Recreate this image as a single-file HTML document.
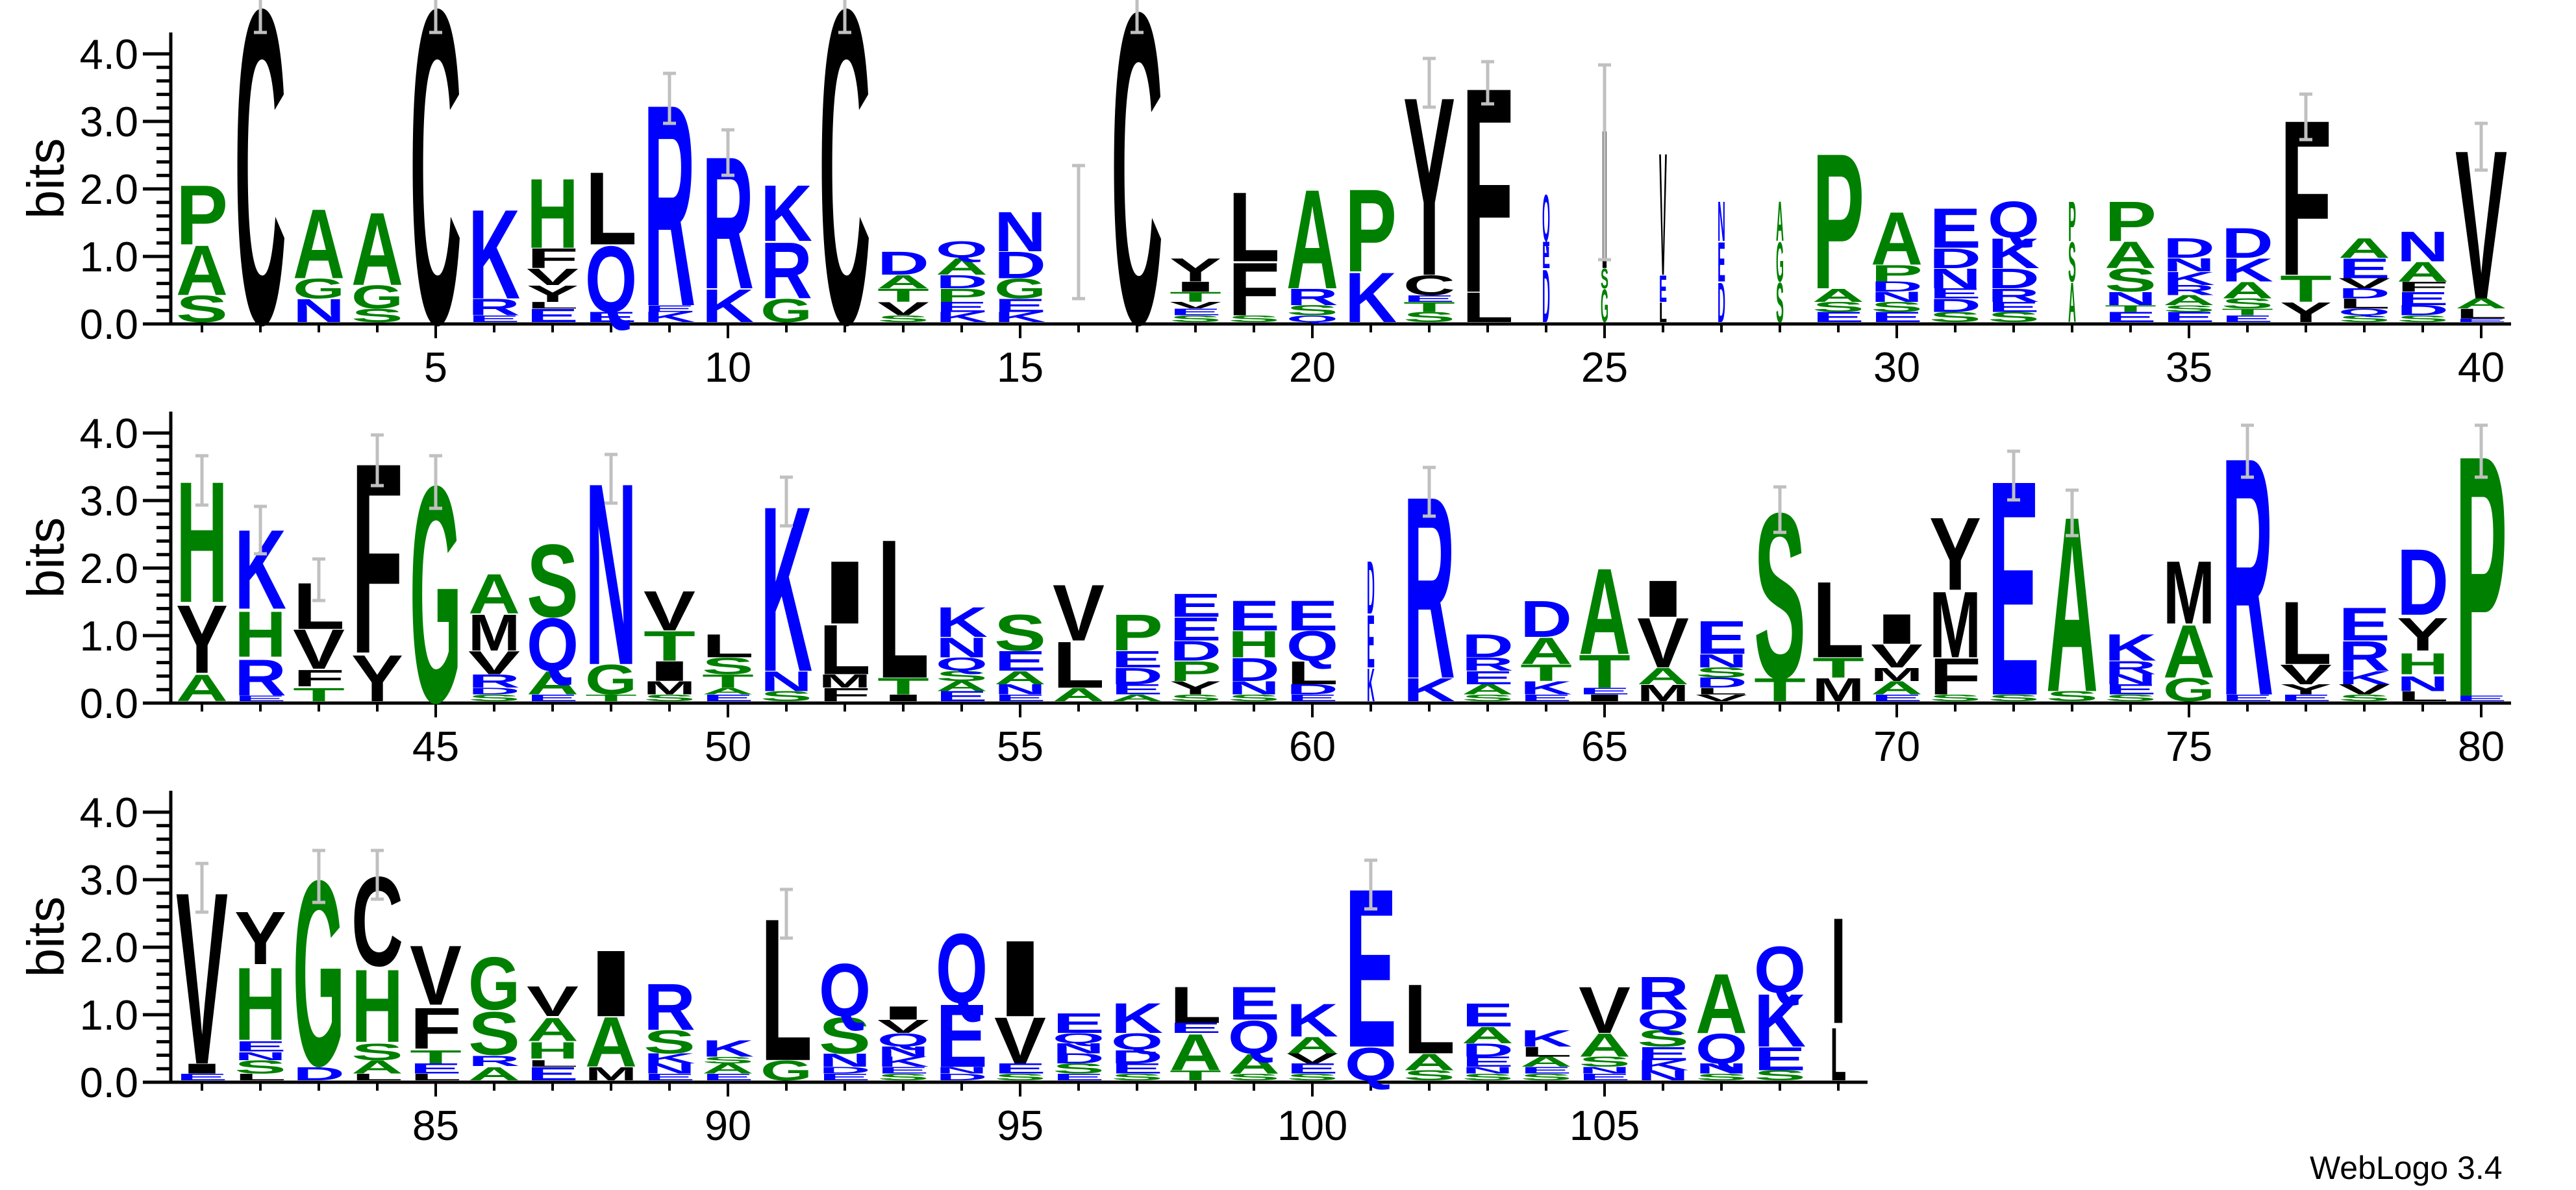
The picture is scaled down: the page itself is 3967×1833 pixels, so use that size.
<!DOCTYPE html>
<html><head><meta charset="utf-8"><style>
html,body{margin:0;padding:0;background:#fff;}
svg{display:block}
text{font-family:"Liberation Sans",sans-serif;}
.L text{font-weight:bold;font-size:140px;}
.b{fill:#0000ff}.g{fill:#008000}.k{fill:#000}
.ax{font-size:65px;fill:#000}
</style></head><body>
<svg xmlns="http://www.w3.org/2000/svg" width="3967" height="1833" viewBox="0 0 3967 1833">
<rect width="3967" height="1833" fill="#fff"/>
<!-- axes -->
<g id="axes1" stroke="#000" fill="none">
<path d="M263,50V501M262,499H3867" stroke-width="5"/>
<path d="M220,499H263M220,395H263M220,291H263M220,187H263M220,83H263" stroke-width="5"/>
<path d="M241,478.2H263M241,457.4H263M241,436.6H263M241,415.8H263M241,374.2H263M241,353.4H263M241,332.6H263M241,311.8H263M241,270.2H263M241,249.4H263M241,228.6H263M241,207.8H263M241,166.2H263M241,145.4H263M241,124.6H263M241,103.8H263" stroke-width="5"/>
<line x1="309" x2="3830" y1="506" y2="506" stroke-width="12" stroke-dasharray="4 86"/>
<line x1="669" x2="3830" y1="510" y2="510" stroke-width="22" stroke-dasharray="4 446"/>
</g>
<g stroke="#000" fill="none" transform="translate(0,584)">
<path d="M263,50V501M262,499H3867" stroke-width="5"/>
<path d="M220,499H263M220,395H263M220,291H263M220,187H263M220,83H263" stroke-width="5"/>
<path d="M241,478.2H263M241,457.4H263M241,436.6H263M241,415.8H263M241,374.2H263M241,353.4H263M241,332.6H263M241,311.8H263M241,270.2H263M241,249.4H263M241,228.6H263M241,207.8H263M241,166.2H263M241,145.4H263M241,124.6H263M241,103.8H263" stroke-width="5"/>
<line x1="309" x2="3830" y1="506" y2="506" stroke-width="12" stroke-dasharray="4 86"/>
<line x1="669" x2="3830" y1="510" y2="510" stroke-width="22" stroke-dasharray="4 446"/>
</g>
<g stroke="#000" fill="none" transform="translate(0,1168)">
<path d="M263,50V501M262,499H2876" stroke-width="5"/>
<path d="M220,499H263M220,395H263M220,291H263M220,187H263M220,83H263" stroke-width="5"/>
<path d="M241,478.2H263M241,457.4H263M241,436.6H263M241,415.8H263M241,374.2H263M241,353.4H263M241,332.6H263M241,311.8H263M241,270.2H263M241,249.4H263M241,228.6H263M241,207.8H263M241,166.2H263M241,145.4H263M241,124.6H263M241,103.8H263" stroke-width="5"/>
<line x1="309" x2="2840" y1="506" y2="506" stroke-width="12" stroke-dasharray="4 86"/>
<line x1="669" x2="2840" y1="510" y2="510" stroke-width="22" stroke-dasharray="4 446"/>
</g>
<!-- axis labels -->
<g class="ax" text-anchor="end">
<text x="213" y="522">0.0</text><text x="213" y="418">1.0</text><text x="213" y="314">2.0</text><text x="213" y="210">3.0</text><text x="213" y="106">4.0</text>
<text x="213" y="1106">0.0</text><text x="213" y="1002">1.0</text><text x="213" y="898">2.0</text><text x="213" y="794">3.0</text><text x="213" y="690">4.0</text>
<text x="213" y="1690">0.0</text><text x="213" y="1586">1.0</text><text x="213" y="1482">2.0</text><text x="213" y="1378">3.0</text><text x="213" y="1274">4.0</text>
</g>
<g class="ax" text-anchor="middle">
<text x="671" y="588">5</text><text x="1121" y="588">10</text><text x="1571" y="588">15</text><text x="2021" y="588">20</text><text x="2471" y="588">25</text><text x="2921" y="588">30</text><text x="3371" y="588">35</text><text x="3821" y="588">40</text>
<text x="671" y="1172">45</text><text x="1121" y="1172">50</text><text x="1571" y="1172">55</text><text x="2021" y="1172">60</text><text x="2471" y="1172">65</text><text x="2921" y="1172">70</text><text x="3371" y="1172">75</text><text x="3821" y="1172">80</text>
<text x="671" y="1756">85</text><text x="1121" y="1756">90</text><text x="1571" y="1756">95</text><text x="2021" y="1756">100</text><text x="2471" y="1756">105</text>
</g>
<g text-anchor="middle" style="font-size:80px">
<text transform="translate(98,275) rotate(-90)">bits</text>
<text transform="translate(98,859) rotate(-90)">bits</text>
<text transform="translate(98,1443) rotate(-90)">bits</text>
</g>
<text x="3557" y="1816" style="font-size:50px">WebLogo 3.4</text>

<g class="L">
<!-- ROW 1 -->
<g transform="translate(271,496) scale(1,1.04)"><text class="g" textLength="80" lengthAdjust="spacingAndGlyphs" transform="translate(0,0)scale(1,.4)">S</text><text class="g" textLength="80" lengthAdjust="spacingAndGlyphs" transform="translate(0,-40)scale(1,.75)">A</text><text class="g" textLength="80" lengthAdjust="spacingAndGlyphs" transform="translate(0,-115)scale(1,.9)">P</text></g>
<g transform="translate(361,496) scale(1,1.04)"><text class="k" textLength="80" lengthAdjust="spacingAndGlyphs" transform="scale(1,4.75)">C</text></g>
<g transform="translate(451,496) scale(1,1.04)"><text class="b" textLength="80" lengthAdjust="spacingAndGlyphs" transform="scale(1,.35)">N</text><text class="g" textLength="80" lengthAdjust="spacingAndGlyphs" transform="translate(0,-35)scale(1,.3)">G</text><text class="g" textLength="80" lengthAdjust="spacingAndGlyphs" transform="translate(0,-65)scale(1,1.05)">A</text></g>
<g transform="translate(541,496) scale(1,1.04)"><text class="g" textLength="80" lengthAdjust="spacingAndGlyphs" transform="scale(1,.2)">S</text><text class="g" textLength="80" lengthAdjust="spacingAndGlyphs" transform="translate(0,-20)scale(1,.35)">G</text><text class="g" textLength="80" lengthAdjust="spacingAndGlyphs" transform="translate(0,-55)scale(1,1.1)">A</text></g>
<g transform="translate(631,496) scale(1,1.04)"><text class="k" textLength="80" lengthAdjust="spacingAndGlyphs" transform="scale(1,4.75)">C</text></g>
<g transform="translate(721,496) scale(1,1.04)"><text class="b" textLength="80" lengthAdjust="spacingAndGlyphs" transform="scale(1,.1)">E</text><text class="b" textLength="80" lengthAdjust="spacingAndGlyphs" transform="translate(0,-10)scale(1,.25)">R</text><text class="b" textLength="80" lengthAdjust="spacingAndGlyphs" transform="translate(0,-35)scale(1,1.35)">K</text></g>
<g transform="translate(811,496) scale(1,1.04)"><text class="b" textLength="80" lengthAdjust="spacingAndGlyphs" transform="scale(1,.2)">E</text><text class="k" textLength="80" lengthAdjust="spacingAndGlyphs" transform="translate(0,-20)scale(1,.1)">L</text><text class="k" textLength="80" lengthAdjust="spacingAndGlyphs" transform="translate(0,-30)scale(1,.25)">Y</text><text class="k" textLength="80" lengthAdjust="spacingAndGlyphs" transform="translate(0,-55)scale(1,.25)">V</text><text class="k" textLength="80" lengthAdjust="spacingAndGlyphs" transform="translate(0,-80)scale(1,.3)">F</text><text class="g" textLength="80" lengthAdjust="spacingAndGlyphs" transform="translate(0,-110)scale(1,1.05)">H</text></g>
<g transform="translate(901,496) scale(1,1.04)"><text class="b" textLength="80" lengthAdjust="spacingAndGlyphs" transform="scale(1,.15)">E</text><text class="b" textLength="80" lengthAdjust="spacingAndGlyphs" transform="translate(0,-15)scale(1,1)">Q</text><text class="k" textLength="80" lengthAdjust="spacingAndGlyphs" transform="translate(0,-115)scale(1,1.1)">L</text></g>
<g transform="translate(991,496) scale(1,1.04)"><text class="b" textLength="80" lengthAdjust="spacingAndGlyphs" transform="scale(1,.15)">K</text><text class="b" textLength="80" lengthAdjust="spacingAndGlyphs" transform="translate(0,-15)scale(1,.1)">E</text><text class="b" textLength="80" lengthAdjust="spacingAndGlyphs" transform="translate(0,-25)scale(1,3.05)">R</text></g>
<g transform="translate(1081,496) scale(1,1.04)"><text class="b" textLength="80" lengthAdjust="spacingAndGlyphs" transform="scale(1,.5)">K</text><text class="b" textLength="80" lengthAdjust="spacingAndGlyphs" transform="translate(0,-50)scale(1,2)">R</text></g>
<g transform="translate(1171,496) scale(1,1.04)"><text class="g" textLength="80" lengthAdjust="spacingAndGlyphs" transform="scale(1,.35)">G</text><text class="b" textLength="80" lengthAdjust="spacingAndGlyphs" transform="translate(0,-35)scale(1,.85)">R</text><text class="b" textLength="80" lengthAdjust="spacingAndGlyphs" transform="translate(0,-120)scale(1,.85)">K</text></g>
<g transform="translate(1261,496) scale(1,1.04)"><text class="k" textLength="80" lengthAdjust="spacingAndGlyphs" transform="scale(1,4.75)">C</text></g>
<g transform="translate(1351,496) scale(1,1.04)"><text class="g" textLength="80" lengthAdjust="spacingAndGlyphs" transform="scale(1,.1)">S</text><text class="k" textLength="80" lengthAdjust="spacingAndGlyphs" transform="translate(0,-10)scale(1,.2)">V</text><text class="g" textLength="80" lengthAdjust="spacingAndGlyphs" transform="translate(0,-30)scale(1,.2)">T</text><text class="g" textLength="80" lengthAdjust="spacingAndGlyphs" transform="translate(0,-50)scale(1,.2)">A</text><text class="b" textLength="80" lengthAdjust="spacingAndGlyphs" transform="translate(0,-70)scale(1,.35)">D</text></g>
<g transform="translate(1441,496) scale(1,1.04)"><text class="b" textLength="80" lengthAdjust="spacingAndGlyphs" transform="scale(1,.15)">K</text><text class="b" textLength="80" lengthAdjust="spacingAndGlyphs" transform="translate(0,-15)scale(1,.15)">E</text><text class="g" textLength="80" lengthAdjust="spacingAndGlyphs" transform="translate(0,-30)scale(1,.2)">P</text><text class="b" textLength="80" lengthAdjust="spacingAndGlyphs" transform="translate(0,-50)scale(1,.2)">D</text><text class="g" textLength="80" lengthAdjust="spacingAndGlyphs" transform="translate(0,-70)scale(1,.25)">A</text><text class="b" textLength="80" lengthAdjust="spacingAndGlyphs" transform="translate(0,-95)scale(1,.25)">Q</text></g>
<g transform="translate(1531,496) scale(1,1.04)"><text class="b" textLength="80" lengthAdjust="spacingAndGlyphs" transform="scale(1,.15)">K</text><text class="b" textLength="80" lengthAdjust="spacingAndGlyphs" transform="translate(0,-15)scale(1,.2)">E</text><text class="g" textLength="80" lengthAdjust="spacingAndGlyphs" transform="translate(0,-35)scale(1,.3)">G</text><text class="b" textLength="80" lengthAdjust="spacingAndGlyphs" transform="translate(0,-65)scale(1,.4)">D</text><text class="b" textLength="80" lengthAdjust="spacingAndGlyphs" transform="translate(0,-105)scale(1,.6)">N</text></g>
<g transform="translate(1711,496) scale(1,1.04)"><text class="k" textLength="80" lengthAdjust="spacingAndGlyphs" transform="scale(1,4.7)">C</text></g>
<g transform="translate(1801,496) scale(1,1.04)"><text class="g" textLength="80" lengthAdjust="spacingAndGlyphs" transform="scale(1,.1)">S</text><text class="b" textLength="80" lengthAdjust="spacingAndGlyphs" transform="translate(0,-10)scale(1,.1)">E</text><text class="k" textLength="80" lengthAdjust="spacingAndGlyphs" transform="translate(0,-20)scale(1,.1)">V</text><text class="g" textLength="80" lengthAdjust="spacingAndGlyphs" transform="translate(0,-30)scale(1,.15)">T</text><text class="k" textLength="80" lengthAdjust="spacingAndGlyphs" transform="translate(0,-45)scale(1,.15)">I</text><text class="k" textLength="80" lengthAdjust="spacingAndGlyphs" transform="translate(0,-60)scale(1,.35)">Y</text></g>
<g transform="translate(1891,496) scale(1,1.04)"><text class="g" textLength="80" lengthAdjust="spacingAndGlyphs" transform="scale(1,.1)">S</text><text class="k" textLength="80" lengthAdjust="spacingAndGlyphs" transform="translate(0,-10)scale(1,.8)">F</text><text class="k" textLength="80" lengthAdjust="spacingAndGlyphs" transform="translate(0,-90)scale(1,1.05)">L</text></g>
<g transform="translate(1981,496) scale(1,1.04)"><text class="b" textLength="80" lengthAdjust="spacingAndGlyphs" transform="scale(1,.1)">Q</text><text class="g" textLength="80" lengthAdjust="spacingAndGlyphs" transform="translate(0,-10)scale(1,.15)">S</text><text class="b" textLength="80" lengthAdjust="spacingAndGlyphs" transform="translate(0,-25)scale(1,.25)">R</text><text class="g" textLength="80" lengthAdjust="spacingAndGlyphs" transform="translate(0,-50)scale(1,1.5)">A</text></g>
<g transform="translate(2071,496) scale(1,1.04)"><text class="b" textLength="80" lengthAdjust="spacingAndGlyphs" transform="scale(1,.75)">K</text><text class="g" textLength="80" lengthAdjust="spacingAndGlyphs" transform="translate(0,-75)scale(1,1.25)">P</text></g>
<g transform="translate(2161,496) scale(1,1.04)"><text class="g" textLength="80" lengthAdjust="spacingAndGlyphs" transform="scale(1,.15)">S</text><text class="g" textLength="80" lengthAdjust="spacingAndGlyphs" transform="translate(0,-15)scale(1,.15)">T</text><text class="b" textLength="80" lengthAdjust="spacingAndGlyphs" transform="translate(0,-30)scale(1,.1)">E</text><text class="k" textLength="80" lengthAdjust="spacingAndGlyphs" transform="translate(0,-40)scale(1,.3)">C</text><text class="k" textLength="80" lengthAdjust="spacingAndGlyphs" transform="translate(0,-70)scale(1,2.7)">Y</text></g>
<g transform="translate(2251,496) scale(1,1.04)"><text class="k" textLength="80" lengthAdjust="spacingAndGlyphs" transform="scale(1,.45)">L</text><text class="k" textLength="80" lengthAdjust="spacingAndGlyphs" transform="translate(0,-45)scale(1,3.1)">F</text></g>
<g transform="translate(2375,496) scale(1,1.04)"><text class="b" textLength="12" lengthAdjust="spacingAndGlyphs" transform="scale(1,.8)">D</text><text class="b" textLength="12" lengthAdjust="spacingAndGlyphs" transform="translate(0,-80)scale(1,.4)">E</text><text class="b" textLength="12" lengthAdjust="spacingAndGlyphs" transform="translate(0,-120)scale(1,.7)">Q</text></g>
<g transform="translate(2465,496) scale(1,1.04)"><text class="g" textLength="12" lengthAdjust="spacingAndGlyphs" transform="scale(1,.5)">G</text><text class="g" textLength="12" lengthAdjust="spacingAndGlyphs" transform="translate(0,-50)scale(1,.3)">S</text><text class="k" textLength="12" lengthAdjust="spacingAndGlyphs" transform="translate(0,-80)scale(1,2.1)">I</text></g>
<g transform="translate(2555,496) scale(1,1.04)"><text class="k" textLength="12" lengthAdjust="spacingAndGlyphs" transform="scale(1,.3)">L</text><text class="b" textLength="12" lengthAdjust="spacingAndGlyphs" transform="translate(0,-30)scale(1,.4)">E</text><text class="k" textLength="12" lengthAdjust="spacingAndGlyphs" transform="translate(0,-70)scale(1,1.85)">V</text></g>
<g transform="translate(2645,496) scale(1,1.04)"><text class="b" textLength="12" lengthAdjust="spacingAndGlyphs" transform="scale(1,.6)">D</text><text class="b" textLength="12" lengthAdjust="spacingAndGlyphs" transform="translate(0,-60)scale(1,.6)">E</text><text class="b" textLength="12" lengthAdjust="spacingAndGlyphs" transform="translate(0,-120)scale(1,.6)">N</text></g>
<g transform="translate(2735,496) scale(1,1.04)"><text class="g" textLength="12" lengthAdjust="spacingAndGlyphs" transform="scale(1,.6)">S</text><text class="g" textLength="12" lengthAdjust="spacingAndGlyphs" transform="translate(0,-60)scale(1,.6)">G</text><text class="g" textLength="12" lengthAdjust="spacingAndGlyphs" transform="translate(0,-120)scale(1,.6)">A</text></g>
<g transform="translate(2791,496) scale(1,1.04)"><text class="b" textLength="80" lengthAdjust="spacingAndGlyphs" transform="scale(1,.15)">E</text><text class="g" textLength="80" lengthAdjust="spacingAndGlyphs" transform="translate(0,-15)scale(1,.15)">S</text><text class="g" textLength="80" lengthAdjust="spacingAndGlyphs" transform="translate(0,-30)scale(1,.2)">A</text><text class="g" textLength="80" lengthAdjust="spacingAndGlyphs" transform="translate(0,-50)scale(1,2.05)">P</text></g>
<g transform="translate(2881,496) scale(1,1.04)"><text class="b" textLength="80" lengthAdjust="spacingAndGlyphs" transform="scale(1,.15)">E</text><text class="g" textLength="80" lengthAdjust="spacingAndGlyphs" transform="translate(0,-15)scale(1,.15)">S</text><text class="b" textLength="80" lengthAdjust="spacingAndGlyphs" transform="translate(0,-30)scale(1,.15)">N</text><text class="b" textLength="80" lengthAdjust="spacingAndGlyphs" transform="translate(0,-45)scale(1,.15)">D</text><text class="g" textLength="80" lengthAdjust="spacingAndGlyphs" transform="translate(0,-60)scale(1,.25)">P</text><text class="g" textLength="80" lengthAdjust="spacingAndGlyphs" transform="translate(0,-85)scale(1,.8)">A</text></g>
<g transform="translate(2971,496) scale(1,1.04)"><text class="g" textLength="80" lengthAdjust="spacingAndGlyphs" transform="scale(1,.15)">S</text><text class="b" textLength="80" lengthAdjust="spacingAndGlyphs" transform="translate(0,-15)scale(1,.2)">D</text><text class="b" textLength="80" lengthAdjust="spacingAndGlyphs" transform="translate(0,-35)scale(1,.15)">E</text><text class="b" textLength="80" lengthAdjust="spacingAndGlyphs" transform="translate(0,-50)scale(1,.3)">N</text><text class="b" textLength="80" lengthAdjust="spacingAndGlyphs" transform="translate(0,-80)scale(1,.3)">D</text><text class="b" textLength="80" lengthAdjust="spacingAndGlyphs" transform="translate(0,-110)scale(1,.6)">E</text></g>
<g transform="translate(3061,496) scale(1,1.04)"><text class="g" textLength="80" lengthAdjust="spacingAndGlyphs" transform="scale(1,.15)">S</text><text class="b" textLength="80" lengthAdjust="spacingAndGlyphs" transform="translate(0,-15)scale(1,.15)">E</text><text class="b" textLength="80" lengthAdjust="spacingAndGlyphs" transform="translate(0,-30)scale(1,.2)">R</text><text class="b" textLength="80" lengthAdjust="spacingAndGlyphs" transform="translate(0,-50)scale(1,.3)">D</text><text class="b" textLength="80" lengthAdjust="spacingAndGlyphs" transform="translate(0,-80)scale(1,.45)">K</text><text class="b" textLength="80" lengthAdjust="spacingAndGlyphs" transform="translate(0,-125)scale(1,.55)">Q</text></g>
<g transform="translate(3185,496) scale(1,1.04)"><text class="g" textLength="12" lengthAdjust="spacingAndGlyphs" transform="scale(1,.6)">A</text><text class="g" textLength="12" lengthAdjust="spacingAndGlyphs" transform="translate(0,-60)scale(1,.6)">S</text><text class="g" textLength="12" lengthAdjust="spacingAndGlyphs" transform="translate(0,-120)scale(1,.6)">P</text></g>
<g transform="translate(3241,496) scale(1,1.04)"><text class="b" textLength="80" lengthAdjust="spacingAndGlyphs" transform="scale(1,.15)">E</text><text class="g" textLength="80" lengthAdjust="spacingAndGlyphs" transform="translate(0,-15)scale(1,.1)">T</text><text class="b" textLength="80" lengthAdjust="spacingAndGlyphs" transform="translate(0,-25)scale(1,.2)">N</text><text class="g" textLength="80" lengthAdjust="spacingAndGlyphs" transform="translate(0,-45)scale(1,.35)">S</text><text class="g" textLength="80" lengthAdjust="spacingAndGlyphs" transform="translate(0,-80)scale(1,.4)">A</text><text class="g" textLength="80" lengthAdjust="spacingAndGlyphs" transform="translate(0,-120)scale(1,.6)">P</text></g>
<g transform="translate(3331,496) scale(1,1.04)"><text class="b" textLength="80" lengthAdjust="spacingAndGlyphs" transform="scale(1,.15)">E</text><text class="g" textLength="80" lengthAdjust="spacingAndGlyphs" transform="translate(0,-15)scale(1,.1)">S</text><text class="g" textLength="80" lengthAdjust="spacingAndGlyphs" transform="translate(0,-25)scale(1,.15)">A</text><text class="b" textLength="80" lengthAdjust="spacingAndGlyphs" transform="translate(0,-40)scale(1,.15)">R</text><text class="b" textLength="80" lengthAdjust="spacingAndGlyphs" transform="translate(0,-55)scale(1,.2)">K</text><text class="b" textLength="80" lengthAdjust="spacingAndGlyphs" transform="translate(0,-75)scale(1,.2)">N</text><text class="b" textLength="80" lengthAdjust="spacingAndGlyphs" transform="translate(0,-95)scale(1,.3)">D</text></g>
<g transform="translate(3421,496) scale(1,1.04)"><text class="b" textLength="80" lengthAdjust="spacingAndGlyphs" transform="scale(1,.1)">E</text><text class="g" textLength="80" lengthAdjust="spacingAndGlyphs" transform="translate(0,-10)scale(1,.1)">T</text><text class="g" textLength="80" lengthAdjust="spacingAndGlyphs" transform="translate(0,-20)scale(1,.15)">S</text><text class="g" textLength="80" lengthAdjust="spacingAndGlyphs" transform="translate(0,-35)scale(1,.25)">A</text><text class="b" textLength="80" lengthAdjust="spacingAndGlyphs" transform="translate(0,-60)scale(1,.35)">K</text><text class="b" textLength="80" lengthAdjust="spacingAndGlyphs" transform="translate(0,-95)scale(1,.45)">D</text></g>
<g transform="translate(3511,496) scale(1,1.04)"><text class="k" textLength="80" lengthAdjust="spacingAndGlyphs" transform="scale(1,.3)">Y</text><text class="g" textLength="80" lengthAdjust="spacingAndGlyphs" transform="translate(0,-30)scale(1,.4)">T</text><text class="k" textLength="80" lengthAdjust="spacingAndGlyphs" transform="translate(0,-70)scale(1,2.35)">F</text></g>
<g transform="translate(3601,496) scale(1,1.04)"><text class="g" textLength="80" lengthAdjust="spacingAndGlyphs" transform="scale(1,.1)">S</text><text class="b" textLength="80" lengthAdjust="spacingAndGlyphs" transform="translate(0,-10)scale(1,.1)">Q</text><text class="k" textLength="80" lengthAdjust="spacingAndGlyphs" transform="translate(0,-20)scale(1,.15)">L</text><text class="b" textLength="80" lengthAdjust="spacingAndGlyphs" transform="translate(0,-35)scale(1,.15)">D</text><text class="k" textLength="80" lengthAdjust="spacingAndGlyphs" transform="translate(0,-50)scale(1,.15)">V</text><text class="b" textLength="80" lengthAdjust="spacingAndGlyphs" transform="translate(0,-65)scale(1,.3)">E</text><text class="g" textLength="80" lengthAdjust="spacingAndGlyphs" transform="translate(0,-95)scale(1,.3)">A</text></g>
<g transform="translate(3691,496) scale(1,1.04)"><text class="g" textLength="80" lengthAdjust="spacingAndGlyphs" transform="scale(1,.1)">S</text><text class="b" textLength="80" lengthAdjust="spacingAndGlyphs" transform="translate(0,-10)scale(1,.15)">D</text><text class="b" textLength="80" lengthAdjust="spacingAndGlyphs" transform="translate(0,-25)scale(1,.2)">E</text><text class="k" textLength="80" lengthAdjust="spacingAndGlyphs" transform="translate(0,-45)scale(1,.15)">F</text><text class="g" textLength="80" lengthAdjust="spacingAndGlyphs" transform="translate(0,-60)scale(1,.3)">A</text><text class="b" textLength="80" lengthAdjust="spacingAndGlyphs" transform="translate(0,-90)scale(1,.45)">N</text></g>
<g transform="translate(3781,496) scale(1,1.04)"><text class="b" textLength="80" lengthAdjust="spacingAndGlyphs" transform="scale(1,.05)">E</text><text class="k" textLength="80" lengthAdjust="spacingAndGlyphs" transform="translate(0,-5)scale(1,.15)">L</text><text class="g" textLength="80" lengthAdjust="spacingAndGlyphs" transform="translate(0,-20)scale(1,.15)">A</text><text class="k" textLength="80" lengthAdjust="spacingAndGlyphs" transform="translate(0,-35)scale(1,2.25)">V</text></g>

<!-- ROW 2 -->
<g transform="translate(271,1080) scale(1,1.04)"><text class="g" textLength="80" lengthAdjust="spacingAndGlyphs" transform="scale(1,.4)">A</text><text class="k" textLength="80" lengthAdjust="spacingAndGlyphs" transform="translate(0,-42)scale(1,1.03)">Y</text><text class="g" textLength="80" lengthAdjust="spacingAndGlyphs" transform="translate(0,-147)scale(1,1.83)">H</text></g>
<g transform="translate(361,1080) scale(1,1.04)"><text class="b" textLength="80" lengthAdjust="spacingAndGlyphs" transform="scale(1,.08)">E</text><text class="b" textLength="80" lengthAdjust="spacingAndGlyphs" transform="translate(0,-8)scale(1,.55)">R</text><text class="g" textLength="80" lengthAdjust="spacingAndGlyphs" transform="translate(0,-66)scale(1,.69)">H</text><text class="b" textLength="80" lengthAdjust="spacingAndGlyphs" transform="translate(0,-137)scale(1,1.2)">K</text></g>
<g transform="translate(451,1080) scale(1,1.04)"><text class="g" textLength="80" lengthAdjust="spacingAndGlyphs" transform="scale(1,.2)">T</text><text class="k" textLength="80" lengthAdjust="spacingAndGlyphs" transform="translate(0,-22)scale(1,.25)">F</text><text class="k" textLength="80" lengthAdjust="spacingAndGlyphs" transform="translate(0,-48)scale(1,.6)">V</text><text class="k" textLength="80" lengthAdjust="spacingAndGlyphs" transform="translate(0,-107)scale(1,.7)">L</text></g>
<g transform="translate(541,1080) scale(1,1.04)"><text class="k" textLength="80" lengthAdjust="spacingAndGlyphs" transform="scale(1,.7)">Y</text><text class="k" textLength="80" lengthAdjust="spacingAndGlyphs" transform="translate(0,-72)scale(1,2.88)">F</text></g>
<g transform="translate(631,1080) scale(1,1.04)"><text class="g" textLength="80" lengthAdjust="spacingAndGlyphs" transform="scale(1,3.27)">G</text></g>
<g transform="translate(721,1080) scale(1,1.04)"><text class="g" textLength="80" lengthAdjust="spacingAndGlyphs" transform="scale(1,.1)">S</text><text class="b" textLength="80" lengthAdjust="spacingAndGlyphs" transform="translate(0,-10)scale(1,.1)">D</text><text class="b" textLength="80" lengthAdjust="spacingAndGlyphs" transform="translate(0,-20)scale(1,.2)">R</text><text class="k" textLength="80" lengthAdjust="spacingAndGlyphs" transform="translate(0,-40)scale(1,.35)">V</text><text class="k" textLength="80" lengthAdjust="spacingAndGlyphs" transform="translate(0,-75)scale(1,.55)">M</text><text class="g" textLength="80" lengthAdjust="spacingAndGlyphs" transform="translate(0,-130)scale(1,.6)">A</text></g>
<g transform="translate(811,1080) scale(1,1.04)"><text class="b" textLength="80" lengthAdjust="spacingAndGlyphs" transform="scale(1,.1)">E</text><text class="g" textLength="80" lengthAdjust="spacingAndGlyphs" transform="translate(0,-10)scale(1,.35)">A</text><text class="b" textLength="80" lengthAdjust="spacingAndGlyphs" transform="translate(0,-45)scale(1,.8)">Q</text><text class="g" textLength="80" lengthAdjust="spacingAndGlyphs" transform="translate(0,-125)scale(1,1.1)">S</text></g>
<g transform="translate(901,1080) scale(1,1.04)"><text class="g" textLength="80" lengthAdjust="spacingAndGlyphs" transform="scale(1,.1)">T</text><text class="g" textLength="80" lengthAdjust="spacingAndGlyphs" transform="translate(0,-10)scale(1,.45)">G</text><text class="b" textLength="80" lengthAdjust="spacingAndGlyphs" transform="translate(0,-55)scale(1,2.75)">N</text></g>
<g transform="translate(991,1080) scale(1,1.04)"><text class="g" textLength="80" lengthAdjust="spacingAndGlyphs" transform="scale(1,.1)">S</text><text class="k" textLength="80" lengthAdjust="spacingAndGlyphs" transform="translate(0,-10)scale(1,.2)">M</text><text class="k" textLength="80" lengthAdjust="spacingAndGlyphs" transform="translate(0,-30)scale(1,.3)">I</text><text class="g" textLength="80" lengthAdjust="spacingAndGlyphs" transform="translate(0,-60)scale(1,.45)">T</text><text class="k" textLength="80" lengthAdjust="spacingAndGlyphs" transform="translate(0,-105)scale(1,.6)">V</text></g>
<g transform="translate(1081,1080) scale(1,1.04)"><text class="b" textLength="80" lengthAdjust="spacingAndGlyphs" transform="scale(1,.1)">E</text><text class="g" textLength="80" lengthAdjust="spacingAndGlyphs" transform="translate(0,-10)scale(1,.1)">A</text><text class="g" textLength="80" lengthAdjust="spacingAndGlyphs" transform="translate(0,-20)scale(1,.2)">T</text><text class="g" textLength="80" lengthAdjust="spacingAndGlyphs" transform="translate(0,-40)scale(1,.25)">S</text><text class="k" textLength="80" lengthAdjust="spacingAndGlyphs" transform="translate(0,-65)scale(1,.35)">L</text></g>
<g transform="translate(1171,1080) scale(1,1.04)"><text class="g" textLength="80" lengthAdjust="spacingAndGlyphs" transform="scale(1,.15)">S</text><text class="b" textLength="80" lengthAdjust="spacingAndGlyphs" transform="translate(0,-15)scale(1,.3)">N</text><text class="b" textLength="80" lengthAdjust="spacingAndGlyphs" transform="translate(0,-45)scale(1,2.5)">K</text></g>
<g transform="translate(1261,1080) scale(1,1.04)"><text class="k" textLength="80" lengthAdjust="spacingAndGlyphs" transform="scale(1,.2)">F</text><text class="k" textLength="80" lengthAdjust="spacingAndGlyphs" transform="translate(0,-20)scale(1,.2)">M</text><text class="k" textLength="80" lengthAdjust="spacingAndGlyphs" transform="translate(0,-40)scale(1,.75)">L</text><text class="k" textLength="80" lengthAdjust="spacingAndGlyphs" transform="translate(0,-115)scale(1,.95)">I</text></g>
<g transform="translate(1351,1080) scale(1,1.04)"><text class="k" textLength="80" lengthAdjust="spacingAndGlyphs" transform="scale(1,.1)">I</text><text class="g" textLength="80" lengthAdjust="spacingAndGlyphs" transform="translate(0,-10)scale(1,.25)">T</text><text class="k" textLength="80" lengthAdjust="spacingAndGlyphs" transform="translate(0,-35)scale(1,2.1)">L</text></g>
<g transform="translate(1441,1080) scale(1,1.04)"><text class="b" textLength="80" lengthAdjust="spacingAndGlyphs" transform="scale(1,.15)">E</text><text class="g" textLength="80" lengthAdjust="spacingAndGlyphs" transform="translate(0,-15)scale(1,.15)">A</text><text class="g" textLength="80" lengthAdjust="spacingAndGlyphs" transform="translate(0,-30)scale(1,.15)">S</text><text class="b" textLength="80" lengthAdjust="spacingAndGlyphs" transform="translate(0,-45)scale(1,.2)">Q</text><text class="b" textLength="80" lengthAdjust="spacingAndGlyphs" transform="translate(0,-65)scale(1,.3)">N</text><text class="b" textLength="80" lengthAdjust="spacingAndGlyphs" transform="translate(0,-95)scale(1,.45)">K</text></g>
<g transform="translate(1531,1080) scale(1,1.04)"><text class="b" textLength="80" lengthAdjust="spacingAndGlyphs" transform="scale(1,.1)">E</text><text class="b" textLength="80" lengthAdjust="spacingAndGlyphs" transform="translate(0,-10)scale(1,.15)">N</text><text class="g" textLength="80" lengthAdjust="spacingAndGlyphs" transform="translate(0,-25)scale(1,.2)">A</text><text class="b" textLength="80" lengthAdjust="spacingAndGlyphs" transform="translate(0,-45)scale(1,.3)">E</text><text class="g" textLength="80" lengthAdjust="spacingAndGlyphs" transform="translate(0,-75)scale(1,.55)">S</text></g>
<g transform="translate(1621,1080) scale(1,1.04)"><text class="g" textLength="80" lengthAdjust="spacingAndGlyphs" transform="scale(1,.2)">A</text><text class="k" textLength="80" lengthAdjust="spacingAndGlyphs" transform="translate(0,-20)scale(1,.7)">L</text><text class="k" textLength="80" lengthAdjust="spacingAndGlyphs" transform="translate(0,-90)scale(1,.85)">V</text></g>
<g transform="translate(1711,1080) scale(1,1.04)"><text class="g" textLength="80" lengthAdjust="spacingAndGlyphs" transform="scale(1,.1)">A</text><text class="b" textLength="80" lengthAdjust="spacingAndGlyphs" transform="translate(0,-10)scale(1,.15)">E</text><text class="b" textLength="80" lengthAdjust="spacingAndGlyphs" transform="translate(0,-25)scale(1,.25)">D</text><text class="b" textLength="80" lengthAdjust="spacingAndGlyphs" transform="translate(0,-50)scale(1,.25)">E</text><text class="g" textLength="80" lengthAdjust="spacingAndGlyphs" transform="translate(0,-75)scale(1,.55)">P</text></g>
<g transform="translate(1801,1080) scale(1,1.04)"><text class="g" textLength="80" lengthAdjust="spacingAndGlyphs" transform="scale(1,.1)">S</text><text class="k" textLength="80" lengthAdjust="spacingAndGlyphs" transform="translate(0,-10)scale(1,.2)">Y</text><text class="g" textLength="80" lengthAdjust="spacingAndGlyphs" transform="translate(0,-30)scale(1,.3)">P</text><text class="b" textLength="80" lengthAdjust="spacingAndGlyphs" transform="translate(0,-60)scale(1,.3)">D</text><text class="b" textLength="80" lengthAdjust="spacingAndGlyphs" transform="translate(0,-90)scale(1,.35)">E</text><text class="b" textLength="80" lengthAdjust="spacingAndGlyphs" transform="translate(0,-125)scale(1,.35)">E</text></g>
<g transform="translate(1891,1080) scale(1,1.04)"><text class="g" textLength="80" lengthAdjust="spacingAndGlyphs" transform="scale(1,.1)">S</text><text class="b" textLength="80" lengthAdjust="spacingAndGlyphs" transform="translate(0,-10)scale(1,.2)">N</text><text class="b" textLength="80" lengthAdjust="spacingAndGlyphs" transform="translate(0,-30)scale(1,.35)">D</text><text class="g" textLength="80" lengthAdjust="spacingAndGlyphs" transform="translate(0,-65)scale(1,.4)">H</text><text class="b" textLength="80" lengthAdjust="spacingAndGlyphs" transform="translate(0,-105)scale(1,.45)">E</text></g>
<g transform="translate(1981,1080) scale(1,1.04)"><text class="b" textLength="80" lengthAdjust="spacingAndGlyphs" transform="scale(1,.1)">E</text><text class="b" textLength="80" lengthAdjust="spacingAndGlyphs" transform="translate(0,-10)scale(1,.15)">D</text><text class="k" textLength="80" lengthAdjust="spacingAndGlyphs" transform="translate(0,-25)scale(1,.35)">L</text><text class="b" textLength="80" lengthAdjust="spacingAndGlyphs" transform="translate(0,-60)scale(1,.45)">Q</text><text class="b" textLength="80" lengthAdjust="spacingAndGlyphs" transform="translate(0,-105)scale(1,.45)">E</text></g>
<g transform="translate(2105,1080) scale(1,1.04)"><text class="b" textLength="12" lengthAdjust="spacingAndGlyphs" transform="scale(1,.5)">K</text><text class="b" textLength="12" lengthAdjust="spacingAndGlyphs" transform="translate(0,-50)scale(1,.8)">E</text><text class="b" textLength="12" lengthAdjust="spacingAndGlyphs" transform="translate(0,-130)scale(1,.8)">D</text></g>
<g transform="translate(2161,1080) scale(1,1.04)"><text class="b" textLength="80" lengthAdjust="spacingAndGlyphs" transform="scale(1,.35)">K</text><text class="b" textLength="80" lengthAdjust="spacingAndGlyphs" transform="translate(0,-35)scale(1,2.75)">R</text></g>
<g transform="translate(2251,1080) scale(1,1.04)"><text class="g" textLength="80" lengthAdjust="spacingAndGlyphs" transform="scale(1,.1)">S</text><text class="g" textLength="80" lengthAdjust="spacingAndGlyphs" transform="translate(0,-10)scale(1,.15)">A</text><text class="b" textLength="80" lengthAdjust="spacingAndGlyphs" transform="translate(0,-25)scale(1,.2)">E</text><text class="b" textLength="80" lengthAdjust="spacingAndGlyphs" transform="translate(0,-45)scale(1,.2)">R</text><text class="b" textLength="80" lengthAdjust="spacingAndGlyphs" transform="translate(0,-65)scale(1,.35)">D</text></g>
<g transform="translate(2341,1080) scale(1,1.04)"><text class="b" textLength="80" lengthAdjust="spacingAndGlyphs" transform="scale(1,.1)">E</text><text class="b" textLength="80" lengthAdjust="spacingAndGlyphs" transform="translate(0,-10)scale(1,.2)">K</text><text class="g" textLength="80" lengthAdjust="spacingAndGlyphs" transform="translate(0,-30)scale(1,.25)">T</text><text class="g" textLength="80" lengthAdjust="spacingAndGlyphs" transform="translate(0,-55)scale(1,.4)">A</text><text class="b" textLength="80" lengthAdjust="spacingAndGlyphs" transform="translate(0,-95)scale(1,.55)">D</text></g>
<g transform="translate(2431,1080) scale(1,1.04)"><text class="k" textLength="80" lengthAdjust="spacingAndGlyphs" transform="scale(1,.1)">I</text><text class="b" textLength="80" lengthAdjust="spacingAndGlyphs" transform="translate(0,-10)scale(1,.1)">E</text><text class="g" textLength="80" lengthAdjust="spacingAndGlyphs" transform="translate(0,-20)scale(1,.5)">T</text><text class="g" textLength="80" lengthAdjust="spacingAndGlyphs" transform="translate(0,-70)scale(1,1.3)">A</text></g>
<g transform="translate(2521,1080) scale(1,1.04)"><text class="k" textLength="80" lengthAdjust="spacingAndGlyphs" transform="scale(1,.25)">M</text><text class="g" textLength="80" lengthAdjust="spacingAndGlyphs" transform="translate(0,-25)scale(1,.25)">A</text><text class="k" textLength="80" lengthAdjust="spacingAndGlyphs" transform="translate(0,-50)scale(1,.75)">V</text><text class="k" textLength="80" lengthAdjust="spacingAndGlyphs" transform="translate(0,-125)scale(1,.55)">I</text></g>
<g transform="translate(2611,1080) scale(1,1.04)"><text class="k" textLength="80" lengthAdjust="spacingAndGlyphs" transform="scale(1,.1)">V</text><text class="k" textLength="80" lengthAdjust="spacingAndGlyphs" transform="translate(0,-10)scale(1,.1)">L</text><text class="b" textLength="80" lengthAdjust="spacingAndGlyphs" transform="translate(0,-20)scale(1,.15)">D</text><text class="g" textLength="80" lengthAdjust="spacingAndGlyphs" transform="translate(0,-35)scale(1,.15)">S</text><text class="b" textLength="80" lengthAdjust="spacingAndGlyphs" transform="translate(0,-50)scale(1,.2)">N</text><text class="b" textLength="80" lengthAdjust="spacingAndGlyphs" transform="translate(0,-70)scale(1,.5)">E</text></g>
<g transform="translate(2701,1080) scale(1,1.04)"><text class="g" textLength="80" lengthAdjust="spacingAndGlyphs" transform="scale(1,.35)">T</text><text class="g" textLength="80" lengthAdjust="spacingAndGlyphs" transform="translate(0,-35)scale(1,2.5)">S</text></g>
<g transform="translate(2791,1080) scale(1,1.04)"><text class="k" textLength="80" lengthAdjust="spacingAndGlyphs" transform="scale(1,.35)">M</text><text class="g" textLength="80" lengthAdjust="spacingAndGlyphs" transform="translate(0,-35)scale(1,.3)">T</text><text class="k" textLength="80" lengthAdjust="spacingAndGlyphs" transform="translate(0,-65)scale(1,1.15)">L</text></g>
<g transform="translate(2881,1080) scale(1,1.04)"><text class="b" textLength="80" lengthAdjust="spacingAndGlyphs" transform="scale(1,.1)">E</text><text class="g" textLength="80" lengthAdjust="spacingAndGlyphs" transform="translate(0,-10)scale(1,.2)">A</text><text class="k" textLength="80" lengthAdjust="spacingAndGlyphs" transform="translate(0,-30)scale(1,.2)">M</text><text class="k" textLength="80" lengthAdjust="spacingAndGlyphs" transform="translate(0,-50)scale(1,.35)">V</text><text class="k" textLength="80" lengthAdjust="spacingAndGlyphs" transform="translate(0,-85)scale(1,.45)">I</text></g>
<g transform="translate(2971,1080) scale(1,1.04)"><text class="g" textLength="80" lengthAdjust="spacingAndGlyphs" transform="scale(1,.1)">S</text><text class="k" textLength="80" lengthAdjust="spacingAndGlyphs" transform="translate(0,-10)scale(1,.55)">F</text><text class="k" textLength="80" lengthAdjust="spacingAndGlyphs" transform="translate(0,-65)scale(1,1)">M</text><text class="k" textLength="80" lengthAdjust="spacingAndGlyphs" transform="translate(0,-165)scale(1,1.1)">Y</text></g>
<g transform="translate(3061,1080) scale(1,1.04)"><text class="g" textLength="80" lengthAdjust="spacingAndGlyphs" transform="scale(1,.1)">S</text><text class="b" textLength="80" lengthAdjust="spacingAndGlyphs" transform="translate(0,-10)scale(1,3.25)">E</text></g>
<g transform="translate(3151,1080) scale(1,1.04)"><text class="g" textLength="80" lengthAdjust="spacingAndGlyphs" transform="scale(1,.15)">S</text><text class="g" textLength="80" lengthAdjust="spacingAndGlyphs" transform="translate(0,-15)scale(1,2.65)">A</text></g>
<g transform="translate(3241,1080) scale(1,1.04)"><text class="g" textLength="80" lengthAdjust="spacingAndGlyphs" transform="scale(1,.1)">S</text><text class="b" textLength="80" lengthAdjust="spacingAndGlyphs" transform="translate(0,-10)scale(1,.15)">E</text><text class="b" textLength="80" lengthAdjust="spacingAndGlyphs" transform="translate(0,-25)scale(1,.15)">N</text><text class="b" textLength="80" lengthAdjust="spacingAndGlyphs" transform="translate(0,-40)scale(1,.2)">R</text><text class="b" textLength="80" lengthAdjust="spacingAndGlyphs" transform="translate(0,-60)scale(1,.4)">K</text></g>
<g transform="translate(3331,1080) scale(1,1.04)"><text class="g" textLength="80" lengthAdjust="spacingAndGlyphs" transform="scale(1,.35)">G</text><text class="g" textLength="80" lengthAdjust="spacingAndGlyphs" transform="translate(0,-35)scale(1,.8)">A</text><text class="k" textLength="80" lengthAdjust="spacingAndGlyphs" transform="translate(0,-115)scale(1,.95)">M</text></g>
<g transform="translate(3421,1080) scale(1,1.04)"><text class="b" textLength="80" lengthAdjust="spacingAndGlyphs" transform="scale(1,.1)">E</text><text class="b" textLength="80" lengthAdjust="spacingAndGlyphs" transform="translate(0,-10)scale(1,3.6)">R</text></g>
<g transform="translate(3511,1080) scale(1,1.04)"><text class="b" textLength="80" lengthAdjust="spacingAndGlyphs" transform="scale(1,.1)">E</text><text class="k" textLength="80" lengthAdjust="spacingAndGlyphs" transform="translate(0,-10)scale(1,.15)">Y</text><text class="k" textLength="80" lengthAdjust="spacingAndGlyphs" transform="translate(0,-25)scale(1,.3)">V</text><text class="k" textLength="80" lengthAdjust="spacingAndGlyphs" transform="translate(0,-55)scale(1,.95)">L</text></g>
<g transform="translate(3601,1080) scale(1,1.04)"><text class="g" textLength="80" lengthAdjust="spacingAndGlyphs" transform="scale(1,.1)">S</text><text class="k" textLength="80" lengthAdjust="spacingAndGlyphs" transform="translate(0,-10)scale(1,.15)">V</text><text class="b" textLength="80" lengthAdjust="spacingAndGlyphs" transform="translate(0,-25)scale(1,.2)">K</text><text class="b" textLength="80" lengthAdjust="spacingAndGlyphs" transform="translate(0,-45)scale(1,.45)">R</text><text class="b" textLength="80" lengthAdjust="spacingAndGlyphs" transform="translate(0,-90)scale(1,.5)">E</text></g>
<g transform="translate(3691,1080) scale(1,1.04)"><text class="k" textLength="80" lengthAdjust="spacingAndGlyphs" transform="scale(1,.15)">L</text><text class="b" textLength="80" lengthAdjust="spacingAndGlyphs" transform="translate(0,-15)scale(1,.22)">N</text><text class="g" textLength="80" lengthAdjust="spacingAndGlyphs" transform="translate(0,-40)scale(1,.32)">H</text><text class="k" textLength="80" lengthAdjust="spacingAndGlyphs" transform="translate(0,-75)scale(1,.5)">Y</text><text class="b" textLength="80" lengthAdjust="spacingAndGlyphs" transform="translate(0,-128)scale(1,1)">D</text></g>
<g transform="translate(3781,1080) scale(1,1.04)"><text class="b" textLength="80" lengthAdjust="spacingAndGlyphs" transform="scale(1,.08)">E</text><text class="g" textLength="80" lengthAdjust="spacingAndGlyphs" transform="translate(0,-8)scale(1,3.65)">P</text></g>

<!-- ROW 3 -->
<g transform="translate(271,1664) scale(1,1.04)"><text class="b" textLength="80" lengthAdjust="spacingAndGlyphs" transform="scale(1,.1)">E</text><text class="k" textLength="80" lengthAdjust="spacingAndGlyphs" transform="translate(0,-10)scale(1,.15)">I</text><text class="k" textLength="80" lengthAdjust="spacingAndGlyphs" transform="translate(0,-25)scale(1,2.6)">V</text></g>
<g transform="translate(361,1664) scale(1,1.04)"><text class="k" textLength="80" lengthAdjust="spacingAndGlyphs" transform="scale(1,.1)">L</text><text class="g" textLength="80" lengthAdjust="spacingAndGlyphs" transform="translate(0,-10)scale(1,.2)">S</text><text class="b" textLength="80" lengthAdjust="spacingAndGlyphs" transform="translate(0,-30)scale(1,.12)">N</text><text class="b" textLength="80" lengthAdjust="spacingAndGlyphs" transform="translate(0,-43)scale(1,.15)">E</text><text class="g" textLength="80" lengthAdjust="spacingAndGlyphs" transform="translate(0,-60)scale(1,1.1)">H</text><text class="k" textLength="80" lengthAdjust="spacingAndGlyphs" transform="translate(0,-172)scale(1,.8)">Y</text></g>
<g transform="translate(451,1664) scale(1,1.04)"><text class="b" textLength="80" lengthAdjust="spacingAndGlyphs" transform="scale(1,.2)">D</text><text class="g" textLength="80" lengthAdjust="spacingAndGlyphs" transform="translate(0,-23)scale(1,2.8)">G</text></g>
<g transform="translate(541,1664) scale(1,1.04)"><text class="k" textLength="80" lengthAdjust="spacingAndGlyphs" transform="scale(1,.1)">L</text><text class="g" textLength="80" lengthAdjust="spacingAndGlyphs" transform="translate(0,-10)scale(1,.2)">A</text><text class="g" textLength="80" lengthAdjust="spacingAndGlyphs" transform="translate(0,-30)scale(1,.25)">S</text><text class="g" textLength="80" lengthAdjust="spacingAndGlyphs" transform="translate(0,-57)scale(1,1.1)">H</text><text class="k" textLength="80" lengthAdjust="spacingAndGlyphs" transform="translate(0,-170)scale(1,1.35)">C</text></g>
<g transform="translate(631,1664) scale(1,1.04)"><text class="k" textLength="80" lengthAdjust="spacingAndGlyphs" transform="scale(1,.1)">L</text><text class="b" textLength="80" lengthAdjust="spacingAndGlyphs" transform="translate(0,-10)scale(1,.15)">E</text><text class="g" textLength="80" lengthAdjust="spacingAndGlyphs" transform="translate(0,-25)scale(1,.2)">T</text><text class="k" textLength="80" lengthAdjust="spacingAndGlyphs" transform="translate(0,-47)scale(1,.62)">F</text><text class="k" textLength="80" lengthAdjust="spacingAndGlyphs" transform="translate(0,-112)scale(1,.9)">V</text></g>
<g transform="translate(721,1664) scale(1,1.04)"><text class="g" textLength="80" lengthAdjust="spacingAndGlyphs" transform="scale(1,.2)">A</text><text class="b" textLength="80" lengthAdjust="spacingAndGlyphs" transform="translate(0,-21)scale(1,.15)">R</text><text class="g" textLength="80" lengthAdjust="spacingAndGlyphs" transform="translate(0,-38)scale(1,.65)">S</text><text class="g" textLength="80" lengthAdjust="spacingAndGlyphs" transform="translate(0,-105)scale(1,.8)">G</text></g>
<g transform="translate(811,1664) scale(1,1.04)"><text class="b" textLength="80" lengthAdjust="spacingAndGlyphs" transform="scale(1,.2)">E</text><text class="k" textLength="80" lengthAdjust="spacingAndGlyphs" transform="translate(0,-20)scale(1,.1)">L</text><text class="g" textLength="80" lengthAdjust="spacingAndGlyphs" transform="translate(0,-32)scale(1,.25)">H</text><text class="g" textLength="80" lengthAdjust="spacingAndGlyphs" transform="translate(0,-58)scale(1,.35)">A</text><text class="k" textLength="80" lengthAdjust="spacingAndGlyphs" transform="translate(0,-95)scale(1,.45)">V</text></g>
<g transform="translate(901,1664) scale(1,1.04)"><text class="k" textLength="80" lengthAdjust="spacingAndGlyphs" transform="scale(1,.2)">M</text><text class="g" textLength="80" lengthAdjust="spacingAndGlyphs" transform="translate(0,-20)scale(1,.75)">A</text><text class="k" textLength="80" lengthAdjust="spacingAndGlyphs" transform="translate(0,-95)scale(1,1)">I</text></g>
<g transform="translate(991,1664) scale(1,1.04)"><text class="b" textLength="80" lengthAdjust="spacingAndGlyphs" transform="scale(1,.1)">E</text><text class="b" textLength="80" lengthAdjust="spacingAndGlyphs" transform="translate(0,-10)scale(1,.15)">N</text><text class="b" textLength="80" lengthAdjust="spacingAndGlyphs" transform="translate(0,-25)scale(1,.15)">K</text><text class="g" textLength="80" lengthAdjust="spacingAndGlyphs" transform="translate(0,-40)scale(1,.35)">S</text><text class="b" textLength="80" lengthAdjust="spacingAndGlyphs" transform="translate(0,-75)scale(1,.7)">R</text></g>
<g transform="translate(1081,1664) scale(1,1.04)"><text class="b" textLength="80" lengthAdjust="spacingAndGlyphs" transform="scale(1,.1)">E</text><text class="g" textLength="80" lengthAdjust="spacingAndGlyphs" transform="translate(0,-10)scale(1,.15)">A</text><text class="g" textLength="80" lengthAdjust="spacingAndGlyphs" transform="translate(0,-25)scale(1,.1)">S</text><text class="b" textLength="80" lengthAdjust="spacingAndGlyphs" transform="translate(0,-35)scale(1,.25)">K</text></g>
<g transform="translate(1171,1664) scale(1,1.04)"><text class="g" textLength="80" lengthAdjust="spacingAndGlyphs" transform="scale(1,.3)">G</text><text class="k" textLength="80" lengthAdjust="spacingAndGlyphs" transform="translate(0,-30)scale(1,2.15)">L</text></g>
<g transform="translate(1261,1664) scale(1,1.04)"><text class="b" textLength="80" lengthAdjust="spacingAndGlyphs" transform="scale(1,.1)">E</text><text class="b" textLength="80" lengthAdjust="spacingAndGlyphs" transform="translate(0,-10)scale(1,.1)">D</text><text class="b" textLength="80" lengthAdjust="spacingAndGlyphs" transform="translate(0,-20)scale(1,.2)">N</text><text class="g" textLength="80" lengthAdjust="spacingAndGlyphs" transform="translate(0,-40)scale(1,.55)">S</text><text class="b" textLength="80" lengthAdjust="spacingAndGlyphs" transform="translate(0,-95)scale(1,.8)">Q</text></g>
<g transform="translate(1351,1664) scale(1,1.04)"><text class="g" textLength="80" lengthAdjust="spacingAndGlyphs" transform="scale(1,.1)">S</text><text class="b" textLength="80" lengthAdjust="spacingAndGlyphs" transform="translate(0,-10)scale(1,.1)">E</text><text class="b" textLength="80" lengthAdjust="spacingAndGlyphs" transform="translate(0,-20)scale(1,.15)">K</text><text class="b" textLength="80" lengthAdjust="spacingAndGlyphs" transform="translate(0,-35)scale(1,.15)">N</text><text class="b" textLength="80" lengthAdjust="spacingAndGlyphs" transform="translate(0,-50)scale(1,.2)">Q</text><text class="k" textLength="80" lengthAdjust="spacingAndGlyphs" transform="translate(0,-70)scale(1,.2)">V</text><text class="k" textLength="80" lengthAdjust="spacingAndGlyphs" transform="translate(0,-90)scale(1,.2)">I</text></g>
<g transform="translate(1441,1664) scale(1,1.04)"><text class="b" textLength="80" lengthAdjust="spacingAndGlyphs" transform="scale(1,.1)">D</text><text class="b" textLength="80" lengthAdjust="spacingAndGlyphs" transform="translate(0,-10)scale(1,.1)">N</text><text class="b" textLength="80" lengthAdjust="spacingAndGlyphs" transform="translate(0,-20)scale(1,.95)">E</text><text class="b" textLength="80" lengthAdjust="spacingAndGlyphs" transform="translate(0,-115)scale(1,1.05)">Q</text></g>
<g transform="translate(1531,1664) scale(1,1.04)"><text class="g" textLength="80" lengthAdjust="spacingAndGlyphs" transform="scale(1,.1)">S</text><text class="b" textLength="80" lengthAdjust="spacingAndGlyphs" transform="translate(0,-10)scale(1,.15)">E</text><text class="k" textLength="80" lengthAdjust="spacingAndGlyphs" transform="translate(0,-25)scale(1,.7)">V</text><text class="k" textLength="80" lengthAdjust="spacingAndGlyphs" transform="translate(0,-95)scale(1,1.15)">I</text></g>
<g transform="translate(1621,1664) scale(1,1.04)"><text class="b" textLength="80" lengthAdjust="spacingAndGlyphs" transform="scale(1,.1)">E</text><text class="g" textLength="80" lengthAdjust="spacingAndGlyphs" transform="translate(0,-10)scale(1,.15)">S</text><text class="b" textLength="80" lengthAdjust="spacingAndGlyphs" transform="translate(0,-25)scale(1,.15)">D</text><text class="b" textLength="80" lengthAdjust="spacingAndGlyphs" transform="translate(0,-40)scale(1,.15)">N</text><text class="b" textLength="80" lengthAdjust="spacingAndGlyphs" transform="translate(0,-55)scale(1,.15)">Q</text><text class="b" textLength="80" lengthAdjust="spacingAndGlyphs" transform="translate(0,-70)scale(1,.3)">E</text></g>
<g transform="translate(1711,1664) scale(1,1.04)"><text class="g" textLength="80" lengthAdjust="spacingAndGlyphs" transform="scale(1,.1)">S</text><text class="b" textLength="80" lengthAdjust="spacingAndGlyphs" transform="translate(0,-10)scale(1,.15)">E</text><text class="b" textLength="80" lengthAdjust="spacingAndGlyphs" transform="translate(0,-25)scale(1,.2)">D</text><text class="b" textLength="80" lengthAdjust="spacingAndGlyphs" transform="translate(0,-45)scale(1,.25)">Q</text><text class="b" textLength="80" lengthAdjust="spacingAndGlyphs" transform="translate(0,-70)scale(1,.45)">K</text></g>
<g transform="translate(1801,1664) scale(1,1.04)"><text class="g" textLength="80" lengthAdjust="spacingAndGlyphs" transform="scale(1,.15)">T</text><text class="g" textLength="80" lengthAdjust="spacingAndGlyphs" transform="translate(0,-15)scale(1,.55)">A</text><text class="b" textLength="80" lengthAdjust="spacingAndGlyphs" transform="translate(0,-70)scale(1,.15)">E</text><text class="k" textLength="80" lengthAdjust="spacingAndGlyphs" transform="translate(0,-85)scale(1,.55)">L</text></g>
<g transform="translate(1891,1664) scale(1,1.04)"><text class="g" textLength="80" lengthAdjust="spacingAndGlyphs" transform="scale(1,.1)">S</text><text class="g" textLength="80" lengthAdjust="spacingAndGlyphs" transform="translate(0,-10)scale(1,.3)">A</text><text class="b" textLength="80" lengthAdjust="spacingAndGlyphs" transform="translate(0,-40)scale(1,.5)">Q</text><text class="b" textLength="80" lengthAdjust="spacingAndGlyphs" transform="translate(0,-90)scale(1,.5)">E</text></g>
<g transform="translate(1981,1664) scale(1,1.04)"><text class="g" textLength="80" lengthAdjust="spacingAndGlyphs" transform="scale(1,.1)">S</text><text class="b" textLength="80" lengthAdjust="spacingAndGlyphs" transform="translate(0,-10)scale(1,.15)">E</text><text class="k" textLength="80" lengthAdjust="spacingAndGlyphs" transform="translate(0,-25)scale(1,.15)">V</text><text class="g" textLength="80" lengthAdjust="spacingAndGlyphs" transform="translate(0,-40)scale(1,.25)">A</text><text class="b" textLength="80" lengthAdjust="spacingAndGlyphs" transform="translate(0,-65)scale(1,.5)">K</text></g>
<g transform="translate(2071,1664) scale(1,1.04)"><text class="b" textLength="80" lengthAdjust="spacingAndGlyphs" transform="scale(1,.5)">Q</text><text class="b" textLength="80" lengthAdjust="spacingAndGlyphs" transform="translate(0,-50)scale(1,2.4)">E</text></g>
<g transform="translate(2161,1664) scale(1,1.04)"><text class="g" textLength="80" lengthAdjust="spacingAndGlyphs" transform="scale(1,.15)">S</text><text class="g" textLength="80" lengthAdjust="spacingAndGlyphs" transform="translate(0,-15)scale(1,.25)">A</text><text class="k" textLength="80" lengthAdjust="spacingAndGlyphs" transform="translate(0,-40)scale(1,1.05)">L</text></g>
<g transform="translate(2251,1664) scale(1,1.04)"><text class="g" textLength="80" lengthAdjust="spacingAndGlyphs" transform="scale(1,.1)">S</text><text class="b" textLength="80" lengthAdjust="spacingAndGlyphs" transform="translate(0,-10)scale(1,.1)">N</text><text class="b" textLength="80" lengthAdjust="spacingAndGlyphs" transform="translate(0,-20)scale(1,.15)">E</text><text class="b" textLength="80" lengthAdjust="spacingAndGlyphs" transform="translate(0,-35)scale(1,.2)">D</text><text class="g" textLength="80" lengthAdjust="spacingAndGlyphs" transform="translate(0,-55)scale(1,.25)">A</text><text class="b" textLength="80" lengthAdjust="spacingAndGlyphs" transform="translate(0,-80)scale(1,.35)">E</text></g>
<g transform="translate(2341,1664) scale(1,1.04)"><text class="g" textLength="80" lengthAdjust="spacingAndGlyphs" transform="scale(1,.1)">S</text><text class="b" textLength="80" lengthAdjust="spacingAndGlyphs" transform="translate(0,-10)scale(1,.1)">E</text><text class="g" textLength="80" lengthAdjust="spacingAndGlyphs" transform="translate(0,-20)scale(1,.15)">A</text><text class="k" textLength="80" lengthAdjust="spacingAndGlyphs" transform="translate(0,-35)scale(1,.15)">L</text><text class="b" textLength="80" lengthAdjust="spacingAndGlyphs" transform="translate(0,-50)scale(1,.25)">K</text></g>
<g transform="translate(2431,1664) scale(1,1.04)"><text class="b" textLength="80" lengthAdjust="spacingAndGlyphs" transform="scale(1,.1)">E</text><text class="b" textLength="80" lengthAdjust="spacingAndGlyphs" transform="translate(0,-10)scale(1,.1)">N</text><text class="g" textLength="80" lengthAdjust="spacingAndGlyphs" transform="translate(0,-20)scale(1,.15)">S</text><text class="g" textLength="80" lengthAdjust="spacingAndGlyphs" transform="translate(0,-35)scale(1,.35)">A</text><text class="k" textLength="80" lengthAdjust="spacingAndGlyphs" transform="translate(0,-70)scale(1,.7)">V</text></g>
<g transform="translate(2521,1664) scale(1,1.04)"><text class="b" textLength="80" lengthAdjust="spacingAndGlyphs" transform="scale(1,.15)">N</text><text class="b" textLength="80" lengthAdjust="spacingAndGlyphs" transform="translate(0,-15)scale(1,.15)">K</text><text class="b" textLength="80" lengthAdjust="spacingAndGlyphs" transform="translate(0,-30)scale(1,.2)">E</text><text class="g" textLength="80" lengthAdjust="spacingAndGlyphs" transform="translate(0,-50)scale(1,.25)">S</text><text class="b" textLength="80" lengthAdjust="spacingAndGlyphs" transform="translate(0,-75)scale(1,.3)">Q</text><text class="b" textLength="80" lengthAdjust="spacingAndGlyphs" transform="translate(0,-105)scale(1,.5)">R</text></g>
<g transform="translate(2611,1664) scale(1,1.04)"><text class="g" textLength="80" lengthAdjust="spacingAndGlyphs" transform="scale(1,.1)">S</text><text class="b" textLength="80" lengthAdjust="spacingAndGlyphs" transform="translate(0,-10)scale(1,.15)">N</text><text class="b" textLength="80" lengthAdjust="spacingAndGlyphs" transform="translate(0,-25)scale(1,.45)">Q</text><text class="g" textLength="80" lengthAdjust="spacingAndGlyphs" transform="translate(0,-70)scale(1,.9)">A</text></g>
<g transform="translate(2701,1664) scale(1,1.04)"><text class="g" textLength="80" lengthAdjust="spacingAndGlyphs" transform="scale(1,.15)">S</text><text class="b" textLength="80" lengthAdjust="spacingAndGlyphs" transform="translate(0,-15)scale(1,.35)">E</text><text class="b" textLength="80" lengthAdjust="spacingAndGlyphs" transform="translate(0,-50)scale(1,.8)">K</text><text class="b" textLength="80" lengthAdjust="spacingAndGlyphs" transform="translate(0,-130)scale(1,.7)">Q</text></g>
<g transform="translate(2819,1664) scale(1,1.04)"><text class="k" textLength="24" lengthAdjust="spacingAndGlyphs" transform="scale(1,.8)">L</text><text class="k" textLength="24" lengthAdjust="spacingAndGlyphs" transform="translate(0,-85)scale(1,1.6)">I</text></g>
</g>
<!-- error bars -->
<path fill="none" stroke="#c0c0c0" stroke-width="5" d="
M401,0V50M391,50h20 M671,0V50M661,50h20 M1301,0V50M1291,50h20 M1751,0V50M1741,50h20
M1031,113V190M1021,113h20M1021,190h20
M1121,200V270M1111,200h20M1111,270h20
M2201,90V165M2191,90h20M2191,165h20
M2291,95V160M2281,95h20M2281,160h20
M3551,145V215M3541,145h20M3541,215h20
M3821,190V262M3811,190h20M3811,262h20
M1661,255V460M1651,255h20M1651,460h20
M2471,100V400M2461,100h20M2461,400h20
M311,702V778M301,702h20M301,778h20
M401,780V853M391,780h20M391,853h20
M491,861V925M481,861h20M481,925h20
M581,670V748M571,670h20M571,748h20
M671,702V783M661,702h20M661,783h20
M941,700V775M931,700h20M931,775h20
M1211,735V810M1201,735h20M1201,810h20
M2201,720V795M2191,720h20M2191,795h20
M2741,750V820M2731,750h20M2731,820h20
M3101,695V770M3091,695h20M3091,770h20
M3191,755V825M3181,755h20M3181,825h20
M3461,655V735M3451,655h20M3451,735h20
M3821,655V735M3811,655h20M3811,735h20
M311,1330V1405M301,1330h20M301,1405h20
M491,1310V1390M481,1310h20M481,1390h20
M581,1310V1385M571,1310h20M571,1385h20
M1211,1370V1445M1201,1370h20M1201,1445h20
M2111,1325V1400M2101,1325h20M2101,1400h20"/>
</svg>
</body></html>
